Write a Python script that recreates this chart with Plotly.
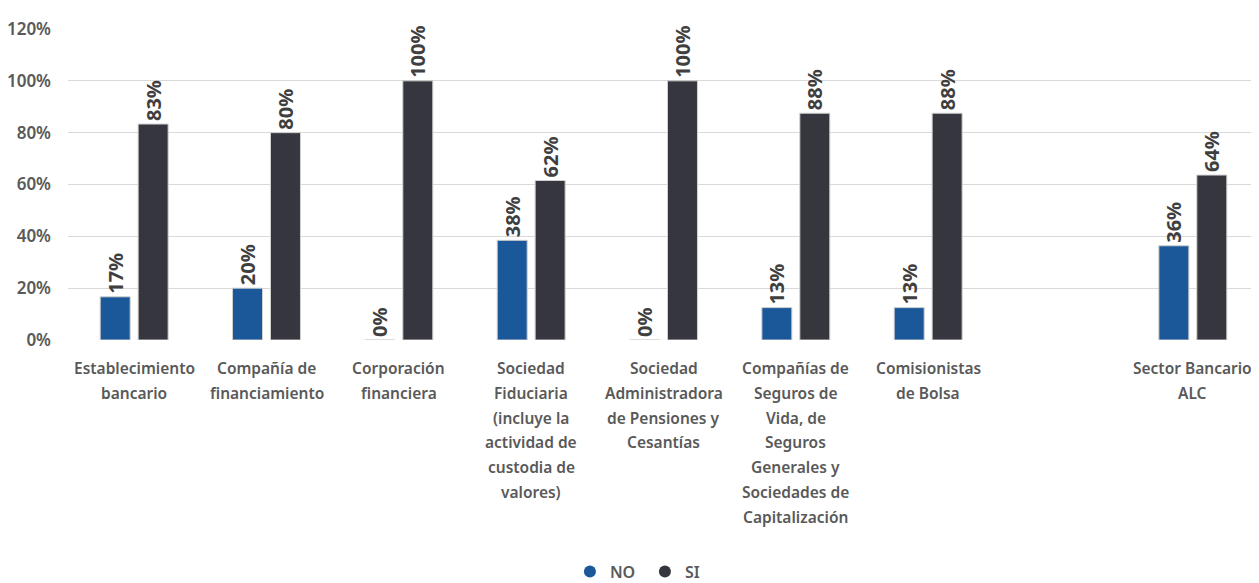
import plotly.graph_objects as go

categories = [
    "Establecimiento<br>bancario",
    "Compañía de<br>financiamiento",
    "Corporación<br>financiera",
    "Sociedad<br>Fiduciaria<br>(incluye la<br>actividad de<br>custodia de<br>valores)",
    "Sociedad<br>Administradora<br>de Pensiones y<br>Cesantías",
    "Compañías de<br>Seguros de<br>Vida, de<br>Seguros<br>Generales y<br>Sociedades de<br>Capitalización",
    "Comisionistas<br>de Bolsa",
    " ",
    "Sector Bancario<br>ALC",
]
no_vals = [0.1667, 0.20, 0.0, 0.3846, 0.0, 0.125, 0.125, None, 0.3636]
si_vals = [0.8333, 0.80, 1.0, 0.6154, 1.0, 0.875, 0.875, None, 0.6364]
series_names = ["NO", "SI"]
colors = ["#1B5899", "#36363E"]

FONT = "Noto Sans"
xs = list(range(len(categories)))

def labels(vals):
    return ["" if v is None else f"{int(v * 100 + 0.5)}%" for v in vals]

fig = go.Figure()
for name, vals, col in zip(series_names, [no_vals, si_vals], colors):
    fig.add_trace(go.Bar(
        x=xs, y=vals, name=name, marker=dict(color=col, line=dict(color="#d0d0d0", width=1)),
        text=labels(vals), textposition="outside", textangle=-90, cliponaxis=False,
        constraintext="none",
        textfont=dict(family=FONT, size=20, color="#3f3f3f", weight="bold"),
        showlegend=False,
    ))
    fig.add_trace(go.Scatter(
        x=[None], y=[None], mode="markers", name=name,
        marker=dict(color=col, size=14, symbol="circle"),
    ))

# category labels, one line each for wider line spacing
for i, cat in enumerate(categories):
    for j, line in enumerate(cat.split("<br>")):
        fig.add_annotation(
            x=xs[i], y=0, xref="x", yref="y", text=line, showarrow=False,
            yanchor="top", yshift=-15 - 24.8 * j,
            font=dict(family=FONT, size=15.5, color="#595959", weight=600),
        )

# the page body adds an 8px offset, so the figure is sized to fit the window
fig.update_layout(
    width=1251, height=575,
    margin=dict(l=60, r=0, t=21, b=243, autoexpand=False),
    paper_bgcolor="white", plot_bgcolor="white",
    barmode="group", bargap=0.4264, bargroupgap=0.21,
    legend=dict(orientation="h", x=0.4844, xanchor="center", y=-0.745, yanchor="middle",
                font=dict(family=FONT, size=16, color="#595959", weight=600),
                itemsizing="constant", itemwidth=30, tracegroupgap=0,
                entrywidth=30),
    xaxis=dict(range=[-0.5, len(categories) - 0.5], showticklabels=False, showgrid=False,
               zeroline=False, showline=False, ticks=""),
    yaxis=dict(range=[0, 1.2], dtick=0.2, tickformat=".0%", showgrid=True, gridcolor="#d9d9d9",
               gridwidth=1, zeroline=False, showline=False, ticks="", ticklabelstandoff=16,
               tickfont=dict(family=FONT, size=17, color="#595959", weight=600)),
)

fig.write_html("out.html")
